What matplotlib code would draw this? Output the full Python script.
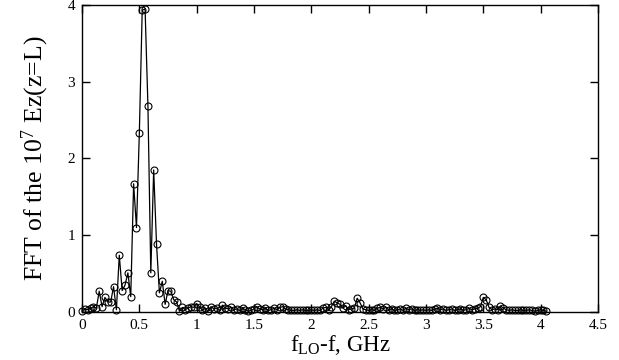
import matplotlib
matplotlib.use("Agg")
import matplotlib.pyplot as plt
import numpy as np

# FFT amplitude sampled every 0.025 GHz, starting at 0
f_step = 0.025
fft_amp = [
    0.01, 0.04, 0.03, 0.05, 0.07, 0.05, 0.27, 0.07, 0.19, 0.13,
    0.13, 0.33, 0.03, 0.74, 0.28, 0.35, 0.51, 0.20, 1.67, 1.10,
    2.33, 3.93, 3.95, 2.68, 0.51, 1.85, 0.88, 0.25, 0.40, 0.10,
    0.28, 0.27, 0.16, 0.13, 0.01, 0.06, 0.03, 0.05, 0.07, 0.06,
    0.11, 0.07, 0.02, 0.05, 0.01, 0.07, 0.04, 0.05, 0.02, 0.09,
    0.05, 0.04, 0.06, 0.03, 0.04, 0.02, 0.05, 0.03, 0.01, 0.02,
    0.04, 0.07, 0.04, 0.03, 0.05, 0.02, 0.03, 0.05, 0.03, 0.06,
    0.07, 0.04, 0.03, 0.02, 0.02, 0.03, 0.02, 0.03, 0.02, 0.02,
    0.03, 0.02, 0.03, 0.02, 0.05, 0.06, 0.03, 0.07, 0.14, 0.12,
    0.10, 0.05, 0.08, 0.03, 0.04, 0.05, 0.18, 0.12, 0.04, 0.03,
    0.02, 0.03, 0.02, 0.05, 0.06, 0.04, 0.06, 0.03, 0.04, 0.02,
    0.03, 0.04, 0.02, 0.05, 0.03, 0.04, 0.02, 0.03, 0.02, 0.03,
    0.02, 0.03, 0.02, 0.04, 0.05, 0.03, 0.04, 0.02, 0.03, 0.04,
    0.02, 0.03, 0.04, 0.02, 0.03, 0.05, 0.03, 0.04, 0.05, 0.07,
    0.19, 0.16, 0.06, 0.03, 0.04, 0.03, 0.08, 0.05, 0.03, 0.02,
    0.03, 0.02, 0.02, 0.03, 0.02, 0.02, 0.03, 0.02, 0.01, 0.02,
    0.03, 0.02, 0.01,
]
freq = np.arange(len(fft_amp)) * f_step

x_ticks = [0, 0.5, 1, 1.5, 2, 2.5, 3, 3.5, 4, 4.5]
x_ticklabels = ["0", "0.5", "1", "1.5", "2", "2.5", "3", "3.5", "4", "4.5"]
y_ticks = [0, 1, 2, 3, 4]

plt.rcParams["font.family"] = "Liberation Serif"
plt.rcParams["mathtext.fontset"] = "custom"
plt.rcParams["mathtext.rm"] = "Liberation Serif"
plt.rcParams["mathtext.it"] = "Liberation Serif:italic"

fig = plt.figure(figsize=(6.19, 3.6), dpi=100)
ax = fig.add_axes([0.1325, 0.1333, 0.8335, 0.853])

ax.plot(freq, fft_amp, color="black", linewidth=0.9,
        marker="o", markersize=5, markerfacecolor="none",
        markeredgecolor="black", markeredgewidth=0.8, clip_on=False)

ax.set_xlim(0, 4.5)
ax.set_ylim(0, 4)
ax.set_xticks(x_ticks)
ax.set_xticklabels(x_ticklabels)
ax.set_yticks(y_ticks)
ax.tick_params(direction="in", top=True, right=True, length=6,
               width=1, labelsize=11, pad=5)
for s in ax.spines.values():
    s.set_linewidth(1)

ax.set_xlabel(r"f$_{\mathrm{LO}}$-f, GHz", fontsize=16.5, labelpad=1)
ax.set_ylabel(r"FFT of the 10$^{7}$ Ez(z=L)", fontsize=18.5, labelpad=12)

fig.savefig("out.png", dpi=100)
